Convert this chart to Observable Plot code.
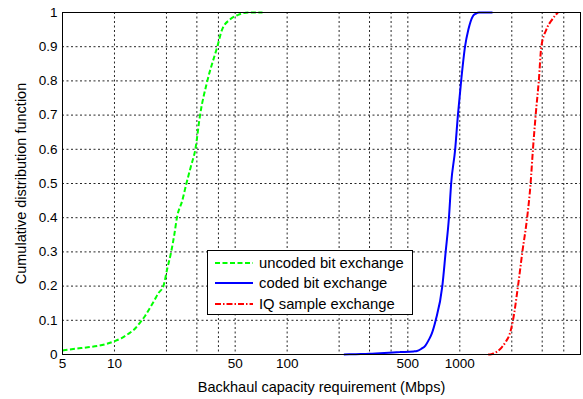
<!DOCTYPE html>
<html>
<head>
<meta charset="utf-8">
<script src="https://cdn.jsdelivr.net/npm/d3@7"></script>
<script src="https://cdn.jsdelivr.net/npm/@observablehq/plot@0.6"></script>
<style>
  html, body { margin: 0; padding: 0; background: #fff; }
  #wrap { position: relative; width: 583px; height: 399px; font-family: "Liberation Sans", Arial, sans-serif; }
  #legend { position: absolute; left: 207px; top: 250px; width: 204px; height: 63px; border: 1px solid #000; background: #fff; box-sizing: content-box; }
  .row { position: absolute; left: 0; height: 20px; display: flex; align-items: center; font-size: 14.8px; color: #000; white-space: nowrap; }
  .row svg { margin-left: 7px; margin-right: 6px; }
</style>
</head>
<body>
<div id="wrap"></div>
<script>
// Series: uncoded bit exchange (green dashed)
const uncodedX = [5, 6, 7, 8, 9, 10, 11, 12, 13, 14, 15, 16, 17, 18, 19.2, 20.2, 21.3, 22.2, 23.0, 24.7, 26.1, 27.7, 29.4, 31.3, 34.5, 39.4, 42, 46.8, 52, 59.6, 72];
const uncodedY = [0.012, 0.017, 0.021, 0.025, 0.031, 0.039, 0.048, 0.06, 0.073, 0.092, 0.112, 0.135, 0.158, 0.18, 0.2, 0.25, 0.3, 0.35, 0.4, 0.45, 0.5, 0.55, 0.6, 0.7, 0.8, 0.9, 0.95, 0.98, 0.993, 1, 1];
// Series: coded bit exchange (blue solid)
const codedX = [213, 250, 300, 345, 450, 540, 565, 600, 632, 660, 687, 725, 792, 828, 865, 891, 940, 975, 1018, 1072, 1121, 1192, 1240, 1293, 1546];
const codedY = [0, 0.001, 0.002, 0.004, 0.007, 0.009, 0.01, 0.017, 0.026, 0.042, 0.06, 0.1, 0.2, 0.3, 0.4, 0.5, 0.6, 0.7, 0.8, 0.9, 0.95, 0.99, 0.997, 1, 1];
// Series: IQ sample exchange (red dash-dot)
const iqX = [1459, 1520, 1570, 1660, 1750, 1850, 1945, 2032, 2173, 2303, 2454, 2570, 2652, 2750, 2867, 2965, 3170, 3430, 3620, 3700];
const iqY = [0, 0.001, 0.003, 0.01, 0.021, 0.038, 0.06, 0.1, 0.2, 0.3, 0.4, 0.5, 0.6, 0.7, 0.8, 0.9, 0.95, 0.98, 0.995, 1];

const seriesNames = ["uncoded bit exchange", "coded bit exchange", "IQ sample exchange"];
const seriesColors = ["#00ff00", "#0000ff", "#ff0000"];
const seriesDash = ["5,2.5", null, "6,2,1.5,2"];

const xTickLabels = [5, 10, 50, 100, 500, 1000];
const xGrid = [10, 20, 30, 40, 50, 100, 200, 300, 400, 500, 1000, 2000, 3000, 4000];
const yTicks = [0, 0.1, 0.2, 0.3, 0.4, 0.5, 0.6, 0.7, 0.8, 0.9, 1];
const yGrid = [0.1, 0.2, 0.3, 0.4, 0.5, 0.6, 0.7, 0.8, 0.9];

const xLabel = "Backhaul capacity requirement (Mbps)";
const yLabel = "Cumulative distribution function";

const series = [
  {name: seriesNames[0], xs: uncodedX, ys: uncodedY},
  {name: seriesNames[1], xs: codedX, ys: codedY},
  {name: seriesNames[2], xs: iqX, ys: iqY}
];
const rows = series.flatMap((s, i) => s.xs.map((x, j) => ({series: s.name, i, x, y: s.ys[j]})));

const lineMarks = series.map((s, i) =>
  Plot.line(rows.filter(r => r.i === i), {
    x: "x", y: "y",
    stroke: seriesColors[i],
    strokeWidth: 2,
    strokeLinecap: "butt",
    strokeLinejoin: "miter",
    strokeDasharray: seriesDash[i] || undefined,
    curve: "monotone-x"
  })
);

const chart = Plot.plot({
  width: 583,
  height: 399,
  marginLeft: 62,
  marginRight: 3,
  marginTop: 12,
  marginBottom: 45,
  style: {fontFamily: "'Liberation Sans', Arial, sans-serif", fontSize: "13px", background: "#fff", color: "#000"},
  x: {type: "log", domain: [5, 5000], axis: null},
  y: {domain: [0, 1], axis: null},
  marks: [
    Plot.gridX(xGrid, {stroke: "#000", strokeOpacity: 0.85, strokeWidth: 1, strokeDasharray: "2,2.5"}),
    Plot.gridY(yGrid, {stroke: "#000", strokeOpacity: 0.85, strokeWidth: 1, strokeDasharray: "2,2.5"}),
    ...lineMarks,
    Plot.frame({stroke: "#000", strokeWidth: 1}),
    Plot.text(xTickLabels, {x: d => d, frameAnchor: "bottom", lineAnchor: "top", dy: 4, fontSize: 13.5, fill: "#000", text: d => String(d)}),
    Plot.text(yTicks, {y: d => d, frameAnchor: "left", textAnchor: "end", lineAnchor: "middle", dx: -5, fontSize: 13.5, fill: "#000", text: d => String(d)}),
    Plot.text([xLabel], {frameAnchor: "bottom", lineAnchor: "bottom", dy: 37, fontSize: 14.5, fill: "#000", text: d => d}),
    Plot.text([yLabel], {frameAnchor: "left", textAnchor: "middle", lineAnchor: "middle", dx: -41, rotate: -90, fontSize: 14.5, fill: "#000", text: d => d})
  ]
});

const wrap = document.getElementById("wrap");
wrap.appendChild(chart);

// Legend
const legend = document.createElement("div");
legend.id = "legend";
seriesNames.forEach((name, i) => {
  const row = document.createElement("div");
  row.className = "row";
  row.style.top = (1.5 + i * 20.5) + "px";
  const sw = d3.create("svg").attr("width", 38).attr("height", 6);
  sw.append("line").attr("x1", 0).attr("x2", 38).attr("y1", 3).attr("y2", 3)
    .attr("stroke", seriesColors[i]).attr("stroke-width", 2)
    .attr("stroke-dasharray", seriesDash[i] || null);
  row.appendChild(sw.node());
  const span = document.createElement("span");
  span.textContent = name;
  row.appendChild(span);
  legend.appendChild(row);
});
wrap.appendChild(legend);
</script>
</body>
</html>
